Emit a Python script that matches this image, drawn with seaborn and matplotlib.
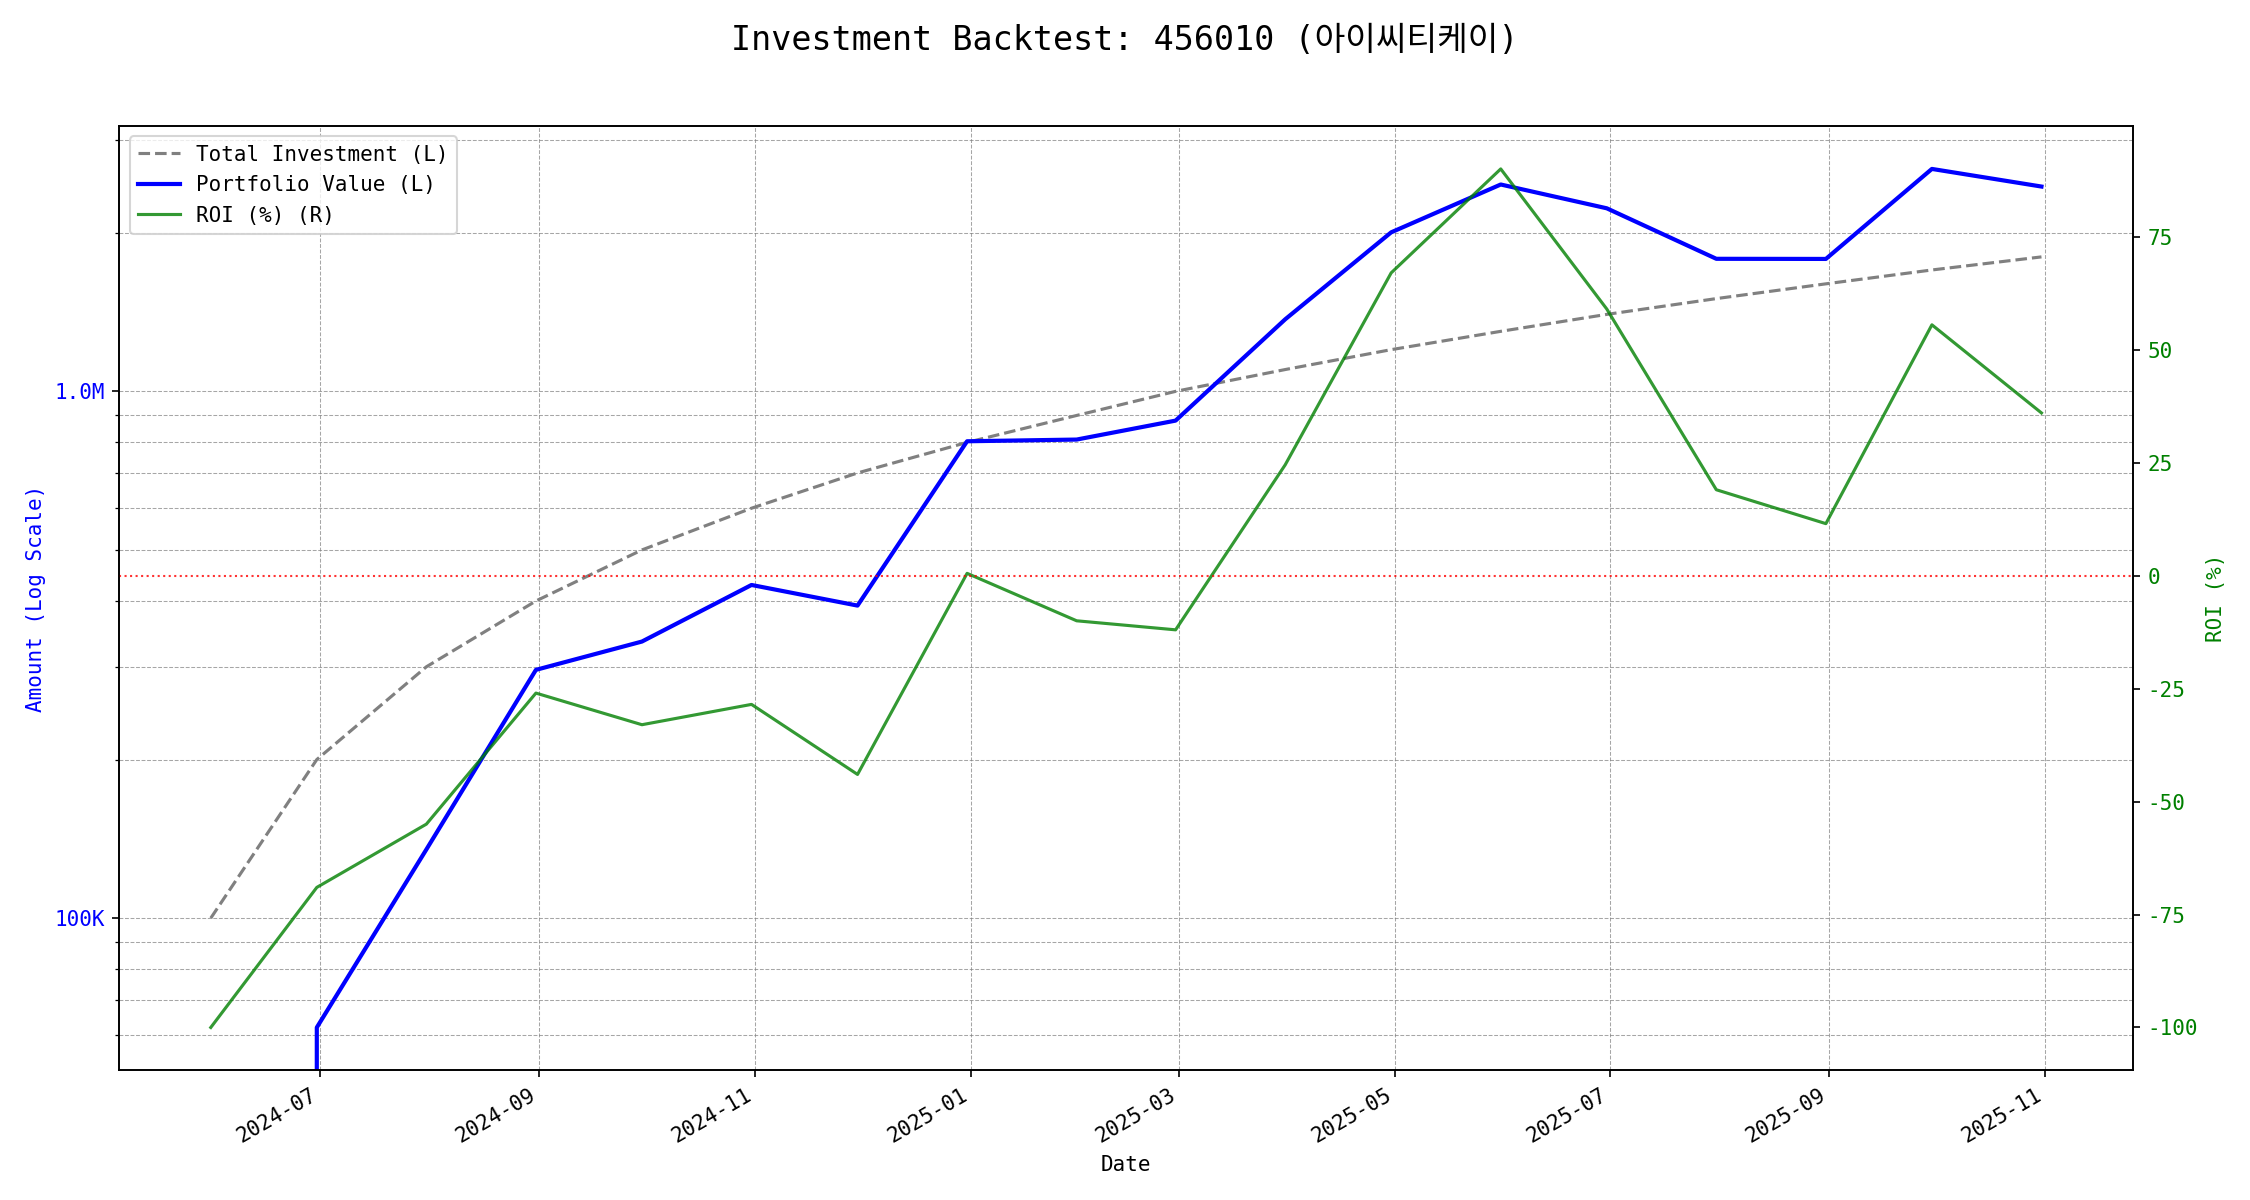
import matplotlib
matplotlib.use('Agg')
import matplotlib.pyplot as plt
import matplotlib.dates as mdates
from matplotlib.ticker import FuncFormatter
import seaborn as sns
import pandas as pd

# month-end snapshots
dates = ['2024-05-31', '2024-06-30', '2024-07-31', '2024-08-31', '2024-09-30', '2024-10-31',
         '2024-11-30', '2024-12-31', '2025-01-31', '2025-02-28', '2025-03-31', '2025-04-30',
         '2025-05-31', '2025-06-30', '2025-07-31', '2025-08-31', '2025-09-30', '2025-10-31']
total_investment = [100000, 200000, 300000, 400000, 500000, 600000, 700000, 800000, 900000,
                    1000000, 1100000, 1200000, 1300000, 1400000, 1500000, 1600000, 1700000, 1800000]
portfolio_value = [0, 62000, 135000, 296000, 335000, 429000, 392000, 804000, 810000,
                   880000, 1370000, 2004000, 2470000, 2226000, 1785000, 1784000, 2644000, 2448000]
roi_pct = [-100, -69, -55, -26, -33, -28.5, -44, 0.5, -10, -12, 24.5, 67, 90, 59, 19, 11.5, 55.5, 36]

ticker = '456010'
name = '아이씨티케이'

df = pd.DataFrame({
    'date': pd.to_datetime(dates),
    'invest': total_investment,
    'value': portfolio_value,
    'roi': roi_pct,
})

plt.rcParams['font.family'] = ['DejaVu Sans Mono', 'Noto Sans CJK KR']
plt.rcParams['axes.unicode_minus'] = False

fig, ax1 = plt.subplots(figsize=(15, 8), dpi=150)
ax2 = ax1.twinx()

sns.lineplot(data=df, x='date', y='invest', ax=ax1, color='gray', linestyle='--',
             linewidth=1.5, label='Total Investment (L)', legend=False)
sns.lineplot(data=df, x='date', y='value', ax=ax1, color='blue',
             linewidth=2, label='Portfolio Value (L)', legend=False)
sns.lineplot(data=df, x='date', y='roi', ax=ax2, color='green', alpha=0.8,
             linewidth=1.5, label='ROI (%) (R)', legend=False)
ax2.axhline(0, color='red', linestyle=':', linewidth=1, alpha=0.8)

ax1.set_yscale('log')
ax1.yaxis.set_major_formatter(FuncFormatter(
    lambda v, p: f'{v/1e6:.1f}M' if v >= 1e6 else f'{v/1e3:.0f}K'))
ax1.set_ylabel('Amount (Log Scale)', color='blue')
ax1.tick_params(axis='y', labelcolor='blue')
ax1.set_xlabel('Date')
ax1.grid(True, which='both', linestyle='--', linewidth=0.5, color='gray', alpha=0.7)

ax2.set_ylabel('ROI (%)', color='green')
ax2.tick_params(axis='y', labelcolor='green')

ax1.xaxis.set_major_locator(mdates.MonthLocator(bymonth=[1, 3, 5, 7, 9, 11]))
ax1.xaxis.set_major_formatter(mdates.DateFormatter('%Y-%m'))
fig.autofmt_xdate()

h1, l1 = ax1.get_legend_handles_labels()
h2, l2 = ax2.get_legend_handles_labels()
ax1.legend(h1 + h2, l1 + l2, loc='upper left')

fig.suptitle(f'Investment Backtest: {ticker} ({name})', fontsize=16)
fig.subplots_adjust(left=0.053, right=0.948, top=0.895, bottom=0.108)

plt.savefig('out.png', dpi=150)
plt.close()
